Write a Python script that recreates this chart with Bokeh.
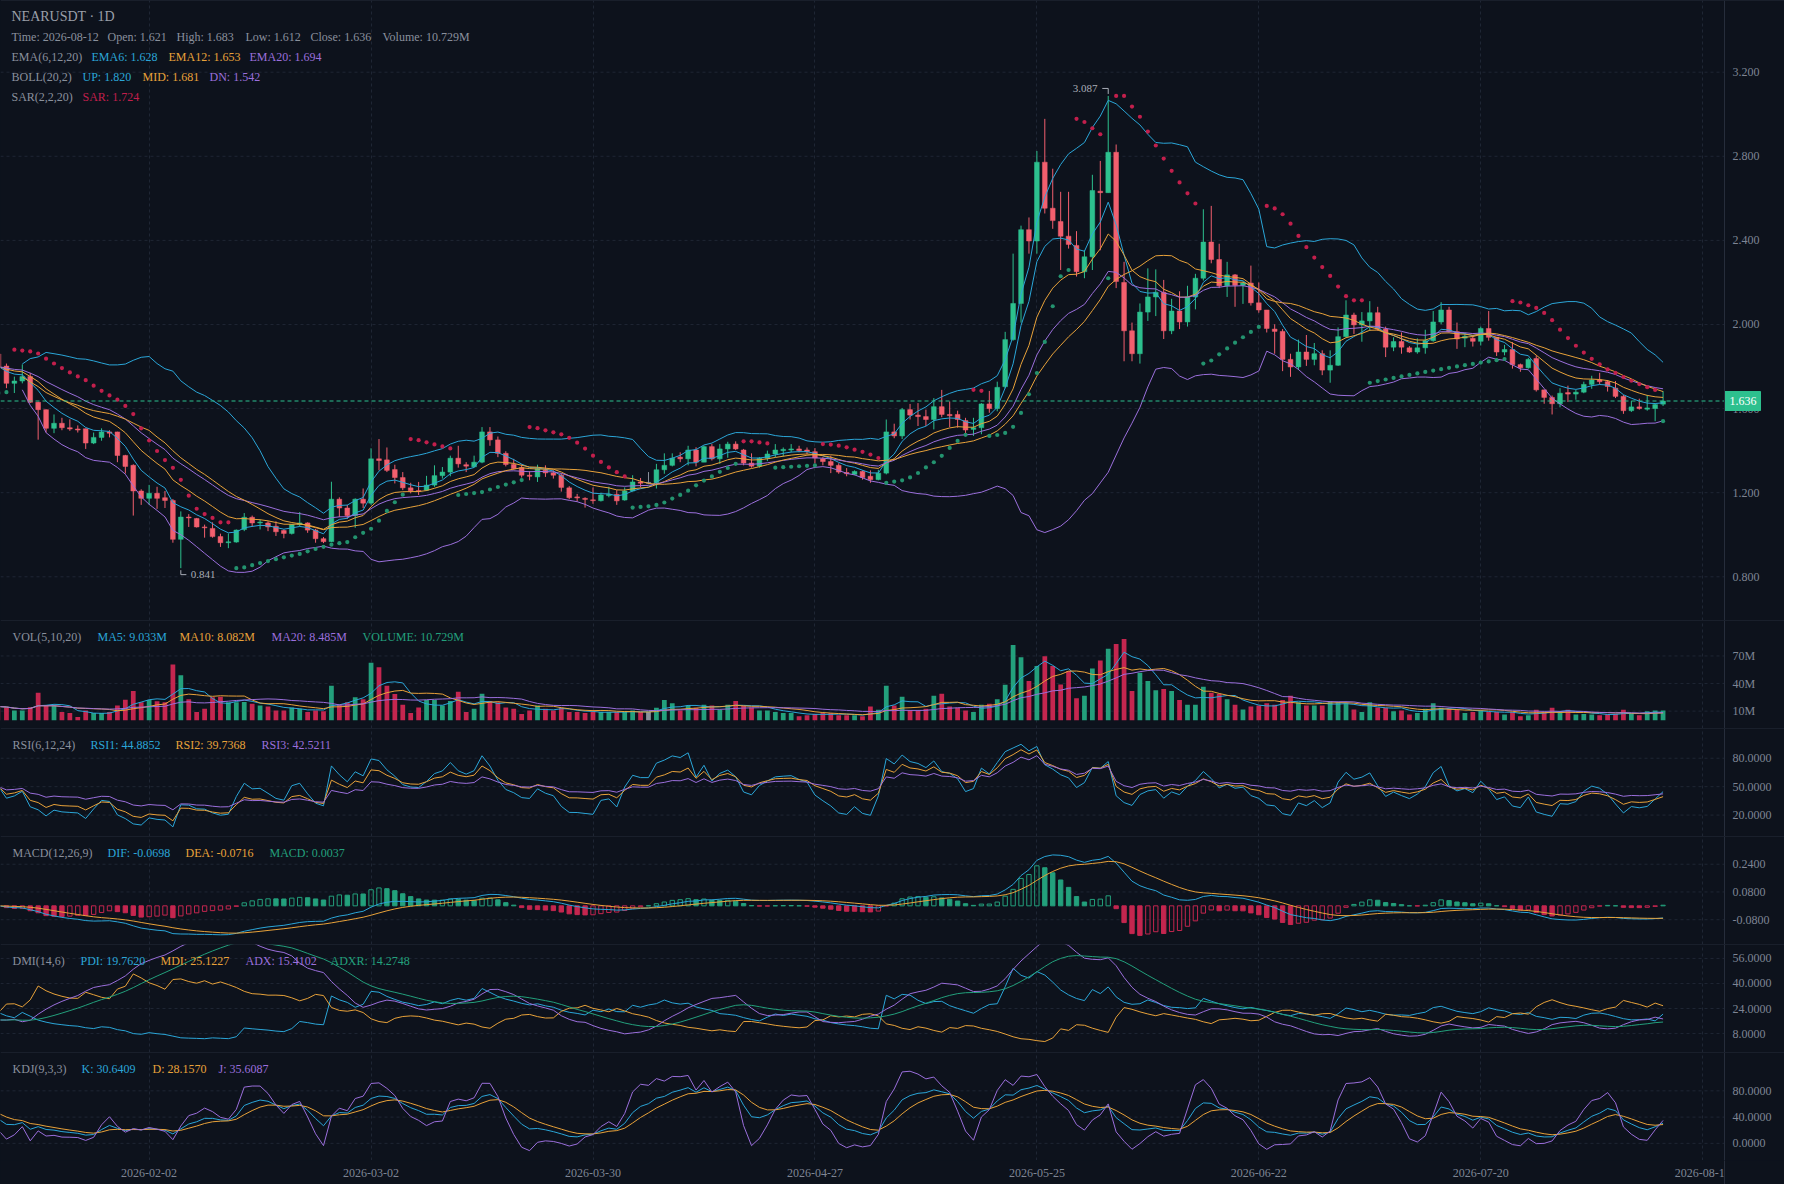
import numpy as np
import pandas as pd
from bokeh.plotting import figure
from bokeh.layouts import column
from bokeh.models import ColumnDataSource, FixedTicker, Span, Label, Range1d
from bokeh.embed import file_html
from bokeh.resources import INLINE
from bokeh.core.properties import value

# ---------------- data ----------------
start_date = "2026-01-14"

opens = [1.860,
 1.802, 1.720, 1.731, 1.752, 1.630, 1.595, 1.506, 1.530, 1.509, 1.503,
 1.504, 1.436, 1.463, 1.489, 1.489, 1.377, 1.330, 1.208, 1.173, 1.197,
 1.176, 1.163, 0.978, 1.084, 1.077, 1.037, 1.030, 0.991, 0.962, 0.965,
 1.025, 1.083, 1.056, 1.056, 1.040, 1.020, 1.006, 1.048, 1.056, 1.022,
 0.981, 0.967, 1.169, 1.127, 1.091, 1.169, 1.150, 1.361, 1.356, 1.310,
 1.272, 1.223, 1.209, 1.212, 1.236, 1.281, 1.298, 1.364, 1.333, 1.323,
 1.345, 1.489, 1.451, 1.387, 1.334, 1.319, 1.283, 1.275, 1.307, 1.294,
 1.283, 1.223, 1.180, 1.173, 1.166, 1.162, 1.186, 1.192, 1.165, 1.208,
 1.251, 1.245, 1.247, 1.309, 1.330, 1.369, 1.361, 1.403, 1.345, 1.419,
 1.361, 1.408, 1.431, 1.403, 1.341, 1.326, 1.364, 1.384, 1.400, 1.403,
 1.408, 1.403, 1.395, 1.361, 1.348, 1.330, 1.296, 1.287, 1.301, 1.278,
 1.262, 1.293, 1.489, 1.470, 1.595, 1.569, 1.562, 1.548, 1.609, 1.572,
 1.572, 1.543, 1.501, 1.509, 1.622, 1.600, 1.704, 1.928, 2.100, 2.451,
 2.397, 2.772, 2.553, 2.490, 2.420, 2.376, 2.251, 2.322, 2.634, 2.627,
 2.819, 2.200, 1.970, 1.861, 2.059, 2.131, 2.153, 1.970, 2.064, 2.012,
 2.131, 2.220, 2.392, 2.309, 2.184, 2.236, 2.186, 2.197, 2.103, 2.069,
 1.978, 1.967, 1.834, 1.798, 1.869, 1.834, 1.861, 1.783, 1.806, 1.942,
 2.045, 1.998, 2.017, 2.056, 1.978, 1.892, 1.919, 1.889, 1.869, 1.889,
 1.923, 2.012, 2.069, 1.966, 1.935, 1.934, 1.920, 1.981, 1.939, 1.869,
 1.881, 1.809, 1.794, 1.838, 1.689, 1.653, 1.623, 1.676, 1.669, 1.678,
 1.715, 1.736, 1.728, 1.697, 1.658, 1.590, 1.608, 1.597, 1.600, 1.621]

highs = [1.880,
 1.814, 1.752, 1.810, 1.770, 1.632, 1.596, 1.572, 1.556, 1.549, 1.520,
 1.505, 1.486, 1.506, 1.497, 1.490, 1.380, 1.335, 1.216, 1.237, 1.228,
 1.208, 1.170, 1.111, 1.098, 1.080, 1.048, 1.059, 1.005, 1.006, 1.025,
 1.103, 1.091, 1.072, 1.064, 1.064, 1.025, 1.051, 1.108, 1.059, 1.028,
 0.989, 1.252, 1.178, 1.142, 1.173, 1.220, 1.411, 1.455, 1.415, 1.333,
 1.298, 1.247, 1.251, 1.280, 1.330, 1.322, 1.376, 1.423, 1.345, 1.376,
 1.512, 1.512, 1.467, 1.397, 1.361, 1.334, 1.303, 1.333, 1.330, 1.306,
 1.291, 1.231, 1.194, 1.178, 1.225, 1.200, 1.228, 1.212, 1.225, 1.283,
 1.270, 1.298, 1.337, 1.387, 1.387, 1.392, 1.423, 1.416, 1.423, 1.431,
 1.431, 1.442, 1.444, 1.408, 1.387, 1.369, 1.400, 1.431, 1.415, 1.431,
 1.423, 1.415, 1.412, 1.369, 1.376, 1.340, 1.317, 1.306, 1.306, 1.306,
 1.309, 1.548, 1.528, 1.603, 1.622, 1.626, 1.595, 1.650, 1.689, 1.634,
 1.590, 1.556, 1.556, 1.626, 1.684, 1.728, 1.965, 2.337, 2.470, 2.509,
 2.825, 2.978, 2.741, 2.631, 2.631, 2.444, 2.353, 2.712, 2.778, 3.087,
 2.856, 2.298, 2.009, 2.100, 2.267, 2.262, 2.212, 2.122, 2.158, 2.184,
 2.241, 2.548, 2.564, 2.384, 2.298, 2.240, 2.205, 2.280, 2.200, 2.069,
 2.001, 1.978, 1.861, 1.928, 1.950, 1.912, 1.877, 1.877, 1.986, 2.115,
 2.056, 2.059, 2.111, 2.084, 1.990, 1.939, 1.962, 1.897, 1.934, 1.975,
 2.064, 2.106, 2.084, 2.009, 1.959, 1.950, 1.990, 2.064, 1.939, 1.903,
 1.916, 1.814, 1.841, 1.853, 1.689, 1.662, 1.697, 1.709, 1.689, 1.728,
 1.756, 1.770, 1.736, 1.731, 1.665, 1.637, 1.647, 1.665, 1.622, 1.683]

lows = [1.790,
 1.697, 1.674, 1.720, 1.627, 1.452, 1.486, 1.483, 1.497, 1.494, 1.486,
 1.408, 1.431, 1.447, 1.463, 1.345, 1.291, 1.091, 1.142, 1.142, 1.123,
 1.127, 0.962, 0.841, 1.037, 1.034, 0.986, 0.986, 0.942, 0.936, 0.962,
 1.017, 1.037, 1.025, 1.017, 0.994, 0.983, 1.001, 1.040, 1.009, 0.962,
 0.960, 0.965, 1.084, 1.075, 1.033, 1.127, 1.142, 1.306, 1.298, 1.244,
 1.212, 1.197, 1.189, 1.208, 1.228, 1.267, 1.278, 1.319, 1.298, 1.319,
 1.340, 1.423, 1.369, 1.325, 1.309, 1.272, 1.259, 1.251, 1.275, 1.267,
 1.205, 1.169, 1.158, 1.129, 1.147, 1.158, 1.178, 1.142, 1.162, 1.205,
 1.225, 1.240, 1.220, 1.290, 1.325, 1.345, 1.330, 1.325, 1.345, 1.353,
 1.337, 1.366, 1.403, 1.330, 1.319, 1.319, 1.350, 1.369, 1.372, 1.392,
 1.392, 1.384, 1.340, 1.330, 1.293, 1.290, 1.278, 1.283, 1.262, 1.247,
 1.259, 1.287, 1.459, 1.455, 1.548, 1.517, 1.517, 1.501, 1.559, 1.512,
 1.509, 1.478, 1.470, 1.478, 1.580, 1.587, 1.697, 1.923, 2.009, 2.337,
 2.337, 2.528, 2.455, 2.259, 2.361, 2.228, 2.220, 2.259, 2.353, 2.627,
 2.173, 1.825, 1.825, 1.814, 2.017, 2.040, 1.931, 1.954, 1.978, 1.990,
 2.072, 2.209, 2.291, 2.173, 2.131, 2.084, 2.098, 2.090, 2.056, 1.962,
 1.861, 1.778, 1.751, 1.783, 1.803, 1.806, 1.759, 1.723, 1.803, 1.939,
 1.955, 1.918, 1.970, 1.970, 1.845, 1.873, 1.861, 1.865, 1.861, 1.861,
 1.918, 2.001, 1.962, 1.884, 1.892, 1.895, 1.900, 1.923, 1.850, 1.853,
 1.790, 1.775, 1.790, 1.681, 1.623, 1.572, 1.606, 1.631, 1.642, 1.673,
 1.694, 1.715, 1.681, 1.650, 1.575, 1.584, 1.595, 1.590, 1.540, 1.612]

closes = [1.800,
 1.720, 1.731, 1.752, 1.630, 1.595, 1.506, 1.530, 1.509, 1.503, 1.498,
 1.436, 1.463, 1.489, 1.483, 1.377, 1.325, 1.208, 1.173, 1.197, 1.173,
 1.163, 0.978, 1.084, 1.080, 1.037, 1.033, 0.991, 0.962, 0.965, 1.022,
 1.083, 1.056, 1.058, 1.037, 1.014, 1.006, 1.048, 1.056, 1.022, 0.981,
 0.967, 1.169, 1.127, 1.091, 1.169, 1.150, 1.361, 1.353, 1.306, 1.272,
 1.223, 1.209, 1.206, 1.236, 1.281, 1.298, 1.364, 1.337, 1.326, 1.345,
 1.489, 1.451, 1.387, 1.334, 1.314, 1.283, 1.278, 1.314, 1.294, 1.283,
 1.225, 1.176, 1.175, 1.168, 1.162, 1.189, 1.192, 1.161, 1.208, 1.251,
 1.245, 1.245, 1.309, 1.330, 1.364, 1.361, 1.403, 1.345, 1.419, 1.361,
 1.408, 1.431, 1.408, 1.341, 1.326, 1.364, 1.384, 1.403, 1.406, 1.408,
 1.400, 1.395, 1.365, 1.348, 1.330, 1.298, 1.290, 1.301, 1.272, 1.262,
 1.293, 1.489, 1.470, 1.595, 1.569, 1.562, 1.548, 1.609, 1.572, 1.566,
 1.548, 1.498, 1.509, 1.622, 1.600, 1.701, 1.928, 2.100, 2.451, 2.397,
 2.772, 2.553, 2.494, 2.420, 2.381, 2.251, 2.322, 2.637, 2.627, 2.819,
 2.205, 1.970, 1.861, 2.059, 2.131, 2.153, 1.970, 2.064, 2.012, 2.131,
 2.220, 2.392, 2.309, 2.184, 2.236, 2.186, 2.197, 2.103, 2.069, 1.981,
 1.967, 1.834, 1.798, 1.869, 1.834, 1.861, 1.783, 1.806, 1.942, 2.045,
 1.998, 2.017, 2.056, 1.978, 1.892, 1.919, 1.892, 1.869, 1.889, 1.923,
 2.012, 2.069, 1.966, 1.931, 1.944, 1.920, 1.981, 1.939, 1.869, 1.881,
 1.809, 1.794, 1.834, 1.689, 1.653, 1.623, 1.673, 1.669, 1.678, 1.715,
 1.736, 1.728, 1.705, 1.658, 1.590, 1.608, 1.600, 1.603, 1.619, 1.636]

volumes_m = [15.0,
 14.0, 10.7, 10.7, 14.3, 30.0, 16.0, 16.0, 9.0, 8.0, 3.6,
 10.7, 7.9, 7.9, 9.0, 16.0, 22.5, 32.0, 19.6, 22.0, 20.7,
 19.6, 60.7, 49.0, 23.0, 9.0, 12.5, 25.0, 25.7, 19.6, 19.6,
 20.0, 18.0, 16.0, 15.0, 10.7, 10.7, 14.0, 12.5, 9.0, 10.7,
 10.0, 37.5, 17.0, 19.6, 25.0, 23.0, 62.5, 57.8, 37.5, 28.6,
 17.0, 7.9, 14.0, 22.0, 22.0, 16.0, 21.0, 31.0, 9.0, 12.5,
 29.0, 21.0, 19.6, 14.0, 12.5, 7.0, 10.7, 16.0, 12.5, 10.7,
 13.6, 9.0, 9.0, 7.9, 9.0, 9.0, 9.0, 9.0, 9.0, 10.7,
 9.0, 9.0, 13.6, 22.0, 18.6, 10.7, 16.0, 13.6, 17.0, 16.0,
 11.4, 17.0, 21.0, 16.0, 14.0, 10.7, 10.7, 9.0, 7.9, 7.9,
 4.3, 5.4, 7.0, 7.9, 7.9, 5.4, 5.4, 5.4, 4.3, 15.0,
 11.4, 37.5, 16.0, 25.7, 10.7, 10.7, 12.5, 26.8, 29.0, 15.0,
 13.6, 10.7, 9.0, 17.0, 18.0, 23.0, 38.6, 82.0, 68.6, 42.8,
 59.0, 69.6, 59.0, 39.0, 53.6, 24.0, 26.8, 56.4, 65.0, 77.8,
 83.0, 88.5, 32.0, 51.8, 42.8, 32.8, 34.0, 32.0, 22.0, 17.0,
 17.0, 36.4, 30.0, 28.6, 23.0, 17.0, 11.8, 15.0, 16.0, 18.6,
 17.0, 22.0, 26.8, 19.6, 16.0, 16.0, 16.0, 20.7, 19.6, 18.6,
 11.8, 9.0, 19.6, 14.0, 13.6, 10.0, 10.7, 6.4, 7.9, 12.5,
 18.6, 13.6, 12.5, 11.4, 7.9, 9.0, 10.7, 9.0, 9.0, 6.4,
 9.0, 4.3, 5.4, 11.4, 9.0, 13.6, 7.9, 11.4, 6.4, 7.0,
 6.4, 5.4, 6.4, 7.0, 11.4, 7.0, 5.4, 10.0, 10.7, 10.729]

tick_dates = ["2026-02-02", "2026-03-02", "2026-03-30", "2026-04-27",
              "2026-05-25", "2026-06-22", "2026-07-20", "2026-08-17"]

price_ticks = [0.8, 1.2, 1.6, 2.0, 2.4, 2.8, 3.2]
price_tick_labels = ["0.800", "1.200", "1.600", "2.000", "2.400", "2.800", "3.200"]
vol_ticks = [10e6, 40e6, 70e6]
vol_tick_labels = ["10M", "40M", "70M"]
rsi_ticks = [20, 50, 80]
rsi_tick_labels = ["20.0000", "50.0000", "80.0000"]
macd_ticks = [-0.08, 0.08, 0.24]
macd_tick_labels = ["-0.0800", "0.0800", "0.2400"]
dmi_ticks = [8, 24, 40, 56]
dmi_tick_labels = ["8.0000", "24.0000", "40.0000", "56.0000"]
kdj_ticks = [0, 40, 80]
kdj_tick_labels = ["0.0000", "40.0000", "80.0000"]

title_text = "NEARUSDT · 1D"
info_texts = ["Time: 2026-08-12", "Open: 1.621", "High: 1.683", "Low: 1.612",
              "Close: 1.636", "Volume: 10.729M"]
ema_texts = ["EMA(6,12,20)", "EMA6: 1.628", "EMA12: 1.653", "EMA20: 1.694"]
boll_texts = ["BOLL(20,2)", "UP: 1.820", "MID: 1.681", "DN: 1.542"]
sar_texts = ["SAR(2,2,20)", "SAR: 1.724"]
vol_texts = ["VOL(5,10,20)", "MA5: 9.033M", "MA10: 8.082M", "MA20: 8.485M", "VOLUME: 10.729M"]
rsi_texts = ["RSI(6,12,24)", "RSI1: 44.8852", "RSI2: 39.7368", "RSI3: 42.5211"]
macd_texts = ["MACD(12,26,9)", "DIF: -0.0698", "DEA: -0.0716", "MACD: 0.0037"]
dmi_texts = ["DMI(14,6)", "PDI: 19.7620", "MDI: 25.1227", "ADX: 15.4102", "ADXR: 14.2748"]
kdj_texts = ["KDJ(9,3,3)", "K: 30.6409", "D: 28.1570", "J: 35.6087"]

# ---------------- styles ----------------
BG = "#0d121c"
GRID = "#1f2634"
SEP = "#262d3b"
TXT = "#8a909c"
AXT = "#7e8594"
CYAN = "#2ba6d8"
ORANGE = "#e8a23a"
PURPLE = "#9b6fdc"
UP = "#2dc08e"
DOWN = "#f25f6e"
NEUTRAL = "#8b919c"
VUP = "#23a07c"
VDOWN = "#c4264f"
SARRED = "#c21f4c"
SARGREEN = "#23936f"
MARK = "#a8adb7"
FONT = "Liberation Serif"

FW = 1724          # plotting area width
AXW = 60           # right price-axis strip
H_MAIN = 620
H_SUB = 108
H_AX = 24

# ---------------- derived arrays / indicators ----------------
o = np.array(opens, dtype=float)
h = np.array(highs, dtype=float)
l = np.array(lows, dtype=float)
c = np.array(closes, dtype=float)
v = np.array(volumes_m, dtype=float) * 1e6
n = len(c)
dates = pd.date_range(start_date, periods=n, freq="D")
xs = np.asarray((dates - dates[0]).days, dtype=float)
tick_x = [float((pd.Timestamp(d) - dates[0]).days) for d in tick_dates]

X0, X1 = 0.25, 217.75
PXX = FW / (X1 - X0)
X1E = X1 + AXW / PXX


def ema(a, p):
    out = np.empty_like(a)
    out[0] = a[0]
    k = 2.0 / (p + 1)
    for i in range(1, len(a)):
        out[i] = k * a[i] + (1 - k) * out[i - 1]
    return out


def smooth(a, p, init):
    out = np.empty_like(a)
    prev = init
    for i in range(len(a)):
        prev = (a[i] + (p - 1) * prev) / p
        out[i] = prev
    return out


ema6, ema12, ema20 = ema(c, 6), ema(c, 12), ema(c, 20)
sc = pd.Series(c)
mid = sc.rolling(20, min_periods=4).mean().values
sd = sc.rolling(20, min_periods=4).std(ddof=0).values
bup = mid + 2 * sd
bdn = mid - 2 * sd

# parabolic SAR (2,2,20)
sar = np.empty(n)
bull = True
af = 0.02
ep = h[:3].max()
s = l[:3].min()
sar[0] = s
for i in range(1, n):
    s = s + af * (ep - s)
    if bull:
        s = min(s, l[i - 1], l[i - 2] if i >= 2 else l[i - 1])
        if l[i] < s:
            bull = False
            s = ep
            ep = l[i]
            af = 0.02
        elif h[i] > ep:
            ep = h[i]
            af = min(af + 0.02, 0.2)
    else:
        s = max(s, h[i - 1], h[i - 2] if i >= 2 else h[i - 1])
        if h[i] > s:
            bull = True
            s = ep
            ep = h[i]
            af = 0.02
        elif l[i] < ep:
            ep = l[i]
            af = min(af + 0.02, 0.2)
    sar[i] = s
sar_col = np.where(sar > c, SARRED, SARGREEN)

sv = pd.Series(v)
vma5 = sv.rolling(5, min_periods=1).mean().values
vma10 = sv.rolling(10, min_periods=1).mean().values
vma20 = sv.rolling(20, min_periods=1).mean().values

diff = np.diff(c, prepend=c[0])


def rsi(p):
    a0 = np.abs(diff[1:p + 1]).mean()
    su = smooth(np.maximum(diff, 0), p, a0 / 2)
    sa = smooth(np.abs(diff), p, a0)
    return su / np.where(sa > 0, sa, 1) * 100


rsi1, rsi2, rsi3 = rsi(6), rsi(12), rsi(24)

dif = ema(c, 12) - ema(c, 26)
dea = ema(dif, 9)
macd = (dif - dea) * 2
prev_macd = np.concatenate([[macd[0]], macd[:-1]])

pc = np.concatenate([[c[0]], c[:-1]])
ph = np.concatenate([[h[0]], h[:-1]])
pl = np.concatenate([[l[0]], l[:-1]])
tr = np.maximum(h - l, np.maximum(np.abs(h - pc), np.abs(l - pc)))
hd = h - ph
ld = pl - l
dmp = np.where((hd > 0) & (hd > ld), hd, 0.0)
dmm = np.where((ld > 0) & (ld > hd), ld, 0.0)
dm0 = (dmp[1:15].mean() + dmm[1:15].mean()) / 2
mtr = smooth(tr, 14, tr[1:15].mean())
pdi = smooth(dmp, 14, dm0) * 100 / mtr
mdi = smooth(dmm, 14, dm0) * 100 / mtr
dx = np.abs(mdi - pdi) / np.where(mdi + pdi > 0, mdi + pdi, 1) * 100
adx = smooth(dx, 6, 20.0)
adxr = smooth(adx, 6, adx[0])

llv = pd.Series(l).rolling(9, min_periods=1).min().values
hhv = pd.Series(h).rolling(9, min_periods=1).max().values
rng = np.where(hhv - llv > 0, hhv - llv, 1)
rsv = (c - llv) / rng * 100
K = np.empty(n)
D = np.empty(n)
kk, dd = 50.0, 50.0
for i in range(n):
    kk = (2 * kk + rsv[i]) / 3
    dd = (2 * dd + kk) / 3
    K[i], D[i] = kk, dd
J = 3 * K - 2 * D

# ---------------- figures ----------------
xr = Range1d(X0, X1E)


def make_fig(fh, yr, ticks, labels):
    p = figure(frame_width=FW + AXW, frame_height=fh, x_range=xr, y_range=Range1d(*yr),
               output_backend="svg", toolbar_location=None, y_axis_location=None,
               x_axis_location=None, min_border=0,
               background_fill_color=BG, border_fill_color=BG, outline_line_color=None)
    p.ygrid.grid_line_color = None
    p.xgrid.ticker = FixedTicker(ticks=tick_x)
    p.xgrid.grid_line_color = GRID
    p.xgrid.grid_line_dash = "3 3"
    p.segment(x0=[X0] * len(ticks), y0=ticks, x1=[X1] * len(ticks), y1=ticks,
              line_color=GRID, line_dash="3 3", line_width=1)
    p.text(x=[X1] * len(ticks), y=ticks, text=labels, x_offset=8, text_align="left",
           text_baseline="middle", text_color=AXT, text_font=value(FONT),
           text_font_size="12px")
    p.add_layout(Span(location=X1, dimension="height", line_color=SEP, line_width=1))
    p.add_layout(Span(location=yr[1], dimension="width", line_color=SEP, line_width=1))
    return p


def add_texts(p, fh, ytop, items):
    for (x, txt, col, size) in items:
        p.add_layout(Label(x=x, y=fh - ytop, x_units="screen", y_units="screen", text=txt,
                           text_color=col, text_font=FONT, text_font_size=size,
                           text_baseline="middle", text_align="left"))


# ---- main pane
MAIN_RANGE = (0.592, 3.541)
PXY = H_MAIN / (MAIN_RANGE[1] - MAIN_RANGE[0])
pm = make_fig(H_MAIN, MAIN_RANGE, price_ticks, price_tick_labels)

ccol = np.where(c > o, UP, np.where(c < o, DOWN, NEUTRAL))
btop = np.maximum(o, c)
bbot = np.minimum(o, c)
btop = np.maximum(btop, bbot + 0.004)
csrc = ColumnDataSource(dict(x=xs, h=h, l=l, top=btop, bot=bbot, col=ccol))
pm.segment(x0="x", y0="h", x1="x", y1="l", line_color="col", line_width=1, source=csrc)
pm.vbar(x="x", width=0.6, top="top", bottom="bot", fill_color="col", line_color="col",
        line_width=0.5, source=csrc)

for arr, col in [(ema6, CYAN), (ema12, ORANGE), (ema20, PURPLE),
                 (bup, CYAN), (mid, ORANGE), (bdn, PURPLE)]:
    pm.line(xs, arr, line_color=col, line_width=1)

pm.scatter(xs, sar, size=4.2, marker="circle", fill_color=sar_col, line_color=None)

last_close = c[-1]
pm.segment(x0=[X0], y0=[last_close], x1=[X1], y1=[last_close], line_color=UP,
           line_dash="4 3", line_width=1)
pm.quad(left=[X1], right=[X1 + 36 / PXX], bottom=[last_close - 9.5 / PXY],
        top=[last_close + 9.5 / PXY], fill_color=UP, line_color=UP)
pm.text(x=[X1], y=[last_close], text=[f"{last_close:.3f}"], x_offset=5, text_align="left",
        text_baseline="middle", text_color="#ffffff", text_font=value(FONT),
        text_font_size="12px")

# high / low markers
imax = int(np.argmax(h))
imin = int(np.argmin(l))
yt = h[imax] + 7.5 / PXY
pm.segment(x0=[xs[imax] - 0.75, xs[imax]], y0=[yt, yt], x1=[xs[imax], xs[imax]],
           y1=[yt, h[imax] + 2 / PXY], line_color=MARK, line_width=1)
pm.text(x=[xs[imax] - 1.35], y=[yt], text=[f"{h[imax]:.3f}"], text_align="right",
        text_baseline="middle", text_color=MARK, text_font=value(FONT),
        text_font_size="11px")
yb = l[imin] - 6.5 / PXY
pm.segment(x0=[xs[imin], xs[imin]], y0=[l[imin] - 2 / PXY, yb], x1=[xs[imin], xs[imin] + 0.7],
           y1=[yb, yb], line_color=MARK, line_width=1)
pm.text(x=[xs[imin] + 1.25], y=[yb], text=[f"{l[imin]:.3f}"], text_align="left",
        text_baseline="middle", text_color=MARK, text_font=value(FONT),
        text_font_size="11px")

add_texts(pm, H_MAIN, 15.8, [(11, title_text, "#9a9fa9", "14px")])
add_texts(pm, H_MAIN, 36.2, [(x, t, TXT, "12px") for x, t in
                             zip([11, 107, 176, 245, 310, 382], info_texts)])
add_texts(pm, H_MAIN, 56.5, [(x, t, col, "12px") for x, t, col in
                             zip([11, 91, 168, 249], ema_texts, [TXT, CYAN, ORANGE, PURPLE])])
add_texts(pm, H_MAIN, 76.2, [(x, t, col, "12px") for x, t, col in
                             zip([11, 82, 142, 209], boll_texts, [TXT, CYAN, ORANGE, PURPLE])])
add_texts(pm, H_MAIN, 96.0, [(x, t, col, "12px") for x, t, col in
                             zip([11, 82], sar_texts, [TXT, SARRED])])

# ---- volume pane
VOL_RANGE = (-8.9e6, 108.6e6)
pv = make_fig(H_SUB, VOL_RANGE, vol_ticks, vol_tick_labels)
vcol = np.where(c > o, VUP, np.where(c < o, VDOWN, NEUTRAL))
pv.vbar(x=xs, width=0.6, top=v, bottom=0, fill_color=vcol, line_color=None)
for arr, col in [(vma5, CYAN), (vma10, ORANGE), (vma20, PURPLE)]:
    pv.line(xs, arr, line_color=col, line_width=1)
add_texts(pv, H_SUB, 16.5, [(x, t, col, "12px") for x, t, col in
                            zip([12, 97, 179, 271, 362], vol_texts,
                                [TXT, CYAN, ORANGE, PURPLE, VUP])])

# ---- RSI pane
RSI_RANGE = (-2.6, 111.4)
pr = make_fig(H_SUB, RSI_RANGE, rsi_ticks, rsi_tick_labels)
for arr, col in [(rsi1, CYAN), (rsi2, ORANGE), (rsi3, PURPLE)]:
    pr.line(xs, arr, line_color=col, line_width=1)
add_texts(pr, H_SUB, 16.5, [(x, t, col, "12px") for x, t, col in
                            zip([12, 90, 175, 261], rsi_texts, [TXT, CYAN, ORANGE, PURPLE])])

# ---- MACD pane
MACD_RANGE = (-0.223, 0.400)
pmc = make_fig(H_SUB, MACD_RANGE, macd_ticks, macd_tick_labels)
mcol = np.where(macd > 0, VUP, VDOWN)
malpha = np.where(macd > prev_macd, 0.0, 1.0)
msrc = ColumnDataSource(dict(x=xs, top=macd, col=mcol, fa=malpha))
pmc.vbar(x="x", width=0.55, top="top", bottom=0, fill_color="col", fill_alpha="fa",
         line_color="col", line_width=1, source=msrc)
pmc.line(xs, dif, line_color=CYAN, line_width=1)
pmc.line(xs, dea, line_color=ORANGE, line_width=1)
add_texts(pmc, H_SUB, 16.5, [(x, t, col, "12px") for x, t, col in
                             zip([12, 107, 185, 269], macd_texts, [TXT, CYAN, ORANGE, VUP])])

# ---- DMI pane
DMI_RANGE = (-4.1, 64.9)
pdm = make_fig(H_SUB, DMI_RANGE, dmi_ticks, dmi_tick_labels)
for arr, col in [(pdi, CYAN), (mdi, ORANGE), (adx, PURPLE), (adxr, VUP)]:
    pdm.line(xs, arr, line_color=col, line_width=1)
add_texts(pdm, H_SUB, 16.5, [(x, t, col, "12px") for x, t, col in
                             zip([12, 80, 160, 245, 330], dmi_texts,
                                 [TXT, CYAN, ORANGE, PURPLE, VUP])])

# ---- KDJ pane
KDJ_RANGE = (-26.1, 138.4)
pk = make_fig(H_SUB, KDJ_RANGE, kdj_ticks, kdj_tick_labels)
for arr, col in [(K, CYAN), (D, ORANGE), (J, PURPLE)]:
    pk.line(xs, arr, line_color=col, line_width=1)
pk.add_layout(Span(location=KDJ_RANGE[0], dimension="width", line_color=SEP, line_width=1))
add_texts(pk, H_SUB, 16.5, [(x, t, col, "12px") for x, t, col in
                            zip([12, 81, 152, 218], kdj_texts, [TXT, CYAN, ORANGE, PURPLE])])

# ---- x-axis strip (labels clipped at the price-axis line)
px = figure(frame_width=FW, frame_height=H_AX, x_range=Range1d(X0, X1), y_range=Range1d(0, 1),
            output_backend="svg", toolbar_location=None, y_axis_location="right",
            x_axis_location=None, min_border_left=0, min_border_right=AXW,
            min_border_top=0, min_border_bottom=0,
            background_fill_color=BG, border_fill_color=BG, outline_line_color=None)
px.yaxis[0].ticker = FixedTicker(ticks=[])
px.yaxis[0].axis_line_color = SEP
px.yaxis[0].major_tick_line_color = None
px.yaxis[0].minor_tick_line_color = None
px.xgrid.grid_line_color = None
px.ygrid.grid_line_color = None
px.text(x=tick_x, y=[0.5] * len(tick_x), text=tick_dates, text_align="center",
        text_baseline="middle", text_color=AXT, text_font=value(FONT), text_font_size="12px")

layout = column(pm, pv, pr, pmc, pdm, pk, px, spacing=0,
                styles={"background-color": BG})

open("out.html", "w").write(file_html(layout, INLINE))
